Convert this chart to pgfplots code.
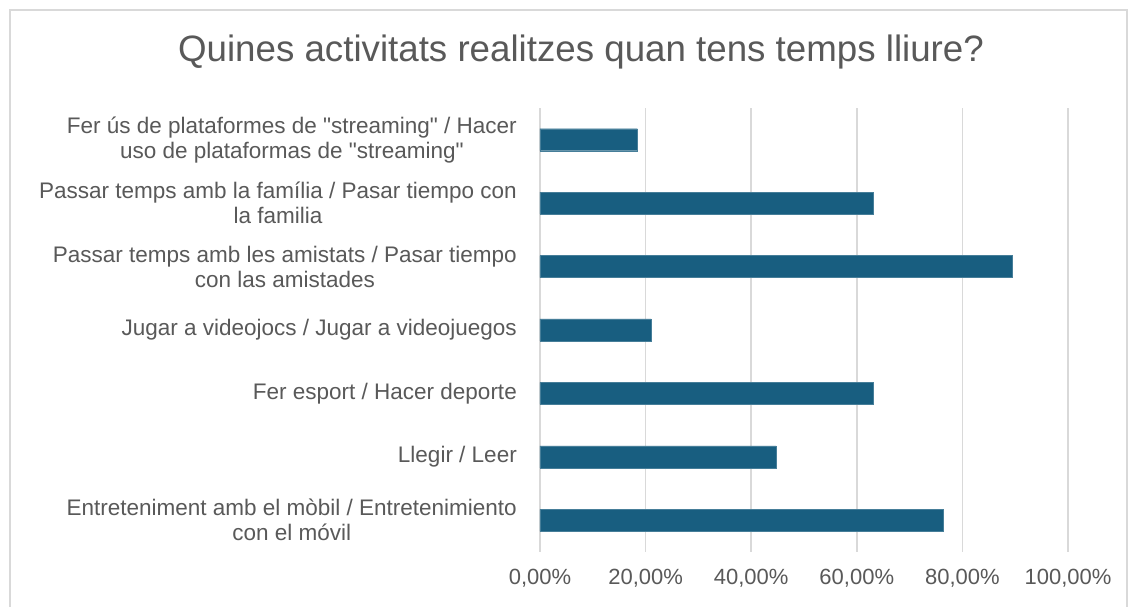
\documentclass[border=0pt]{standalone}
\usepackage{pgfplots}
\pgfplotsset{compat=1.18}
\usepackage{fontspec}
\setmainfont[Ligatures=TeXOff]{Liberation Sans}
\definecolor{barc}{RGB}{24,94,128}
\definecolor{txt}{RGB}{89,89,89}
\definecolor{grd}{RGB}{217,217,217}
\begin{document}
\begin{tikzpicture}[x=1pt,y=1pt]
\useasboundingbox (0,0) rectangle (1130,607);
\fill[white] (0,0) rectangle (1130,607);
\draw[grd, line width=1.2pt] (10,-5) -- (10,597) -- (1127,597) -- (1127,-5);
\node[txt, font=\fontsize{36.7}{40}\selectfont] at (581,555) {Quines activitats realitzes quan tens temps lliure?};
\begin{axis}[
  at={(540pt,55pt)}, anchor=south west,
  scale only axis, width=528pt, height=444pt,
  xmin=0, xmax=100, ymin=-0.5, ymax=6.5,
  axis line style={draw=none},
  xmajorgrids, grid style={grd, line width=1.5pt},
  xtick={0,20,40,60,80,100},
  xticklabels={{0,00\%},{20,00\%},{40,00\%},{60,00\%},{80,00\%},{100,00\%}},
  ytick={0,1,2,3,4,5,6},
  yticklabels={{Entreteniment amb el mòbil / Entretenimiento\\con el móvil},
    {Llegir / Leer},
    {Fer esport / Hacer deporte},
    {Jugar a videojocs / Jugar a videojuegos},
    {Passar temps amb les amistats / Pasar tiempo\\con las amistades},
    {Passar temps amb la família / Pasar tiempo con\\la familia},
    {Fer ús de plataformes de "streaming" / Hacer\\uso de plataformas de "streaming"}},
  major tick length=0pt,
  tick style={draw=none},
  yticklabel style={align=center, inner sep=0pt, font=\fontsize{22.5}{25}\selectfont, text=txt},
  xticklabel style={inner sep=0pt, font=\fontsize{22}{25}\selectfont, text=txt},
  yticklabel shift=23pt,
  xticklabel shift=17pt,
  clip=false,
]
\addplot[xbar, bar width=22pt, fill=barc, draw=barc!80!white, line width=0.4pt]
coordinates {
(76.32,0)
(44.74,1)
(63.16,2)
(21.05,3)
(89.47,4)
(63.16,5)
(18.42,6)
};
\end{axis}
\end{tikzpicture}
\end{document}
